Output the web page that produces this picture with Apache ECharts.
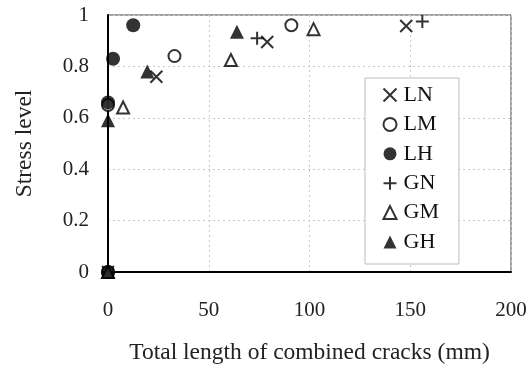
<!DOCTYPE html>
<html>
<head>
<meta charset="utf-8">
<script src="https://cdn.jsdelivr.net/npm/echarts@6/dist/echarts.min.js"></script>
<style>
  html, body { margin: 0; padding: 0; background: #fff; }
  #chart { width: 530px; height: 365px; }
</style>
</head>
<body>
<div id="chart"></div>
<script>
// Stress level vs. total length of combined cracks, per specimen group
const seriesNames = ['LN', 'LM', 'LH', 'GN', 'GM', 'GH'];
const dataLN = [[0, 0], [24, 0.76], [79, 0.895], [148, 0.957]];
const dataLM = [[0, 0], [0, 0.65], [33, 0.84], [91, 0.96]];
const dataLH = [[0, 0], [0, 0.66], [2.5, 0.83], [12.5, 0.96]];
const dataGN = [[0, 0], [74, 0.91], [156, 0.975]];
const dataGM = [[0, 0], [7.5, 0.64], [61, 0.825], [102, 0.945]];
const dataGH = [[0, 0], [0, 0.59], [19.5, 0.78], [64, 0.935]];
const xTicks = [0, 50, 100, 150, 200];
const yTicks = [0, 0.2, 0.4, 0.6, 0.8, 1];

const FONT = '"Liberation Serif", "Times New Roman", serif';
const CROSS_X = 'path://M0,0L10,10M10,0L0,10';
const CROSS_PLUS = 'path://M5,0L5,10M0,5L10,5';

const styles = {
  LN: { symbol: CROSS_X, symbolSize: 12, itemStyle: { color: 'none', borderColor: '#000', borderWidth: 2 } },
  LM: { symbol: 'circle', symbolSize: 12, itemStyle: { color: '#fff', borderColor: '#000', borderWidth: 2 } },
  LH: { symbol: 'circle', symbolSize: 14, itemStyle: { color: '#000', borderColor: '#000', borderWidth: 0 } },
  GN: { symbol: CROSS_PLUS, symbolSize: 13, itemStyle: { color: 'none', borderColor: '#000', borderWidth: 2 } },
  GM: { symbol: 'triangle', symbolSize: 12, itemStyle: { color: '#fff', borderColor: '#000', borderWidth: 2 } },
  GH: { symbol: 'triangle', symbolSize: 14, itemStyle: { color: '#000', borderColor: '#000', borderWidth: 0 } }
};
const seriesData = { LN: dataLN, LM: dataLM, LH: dataLH, GN: dataGN, GM: dataGM, GH: dataGH };

const chart = echarts.init(document.getElementById('chart'), null, { renderer: 'canvas' });

const fmt = v => String(+v.toFixed(1));

chart.setOption({
  animation: false,
  backgroundColor: '#fff',
  textStyle: { fontFamily: FONT },
  grid: {
    left: 108, right: 19, top: 15, bottom: 93,
    outerBoundsMode: 'none',
    containLabel: false,
    show: true, borderColor: '#444', borderWidth: 1, backgroundColor: 'transparent'
  },
  xAxis: {
    type: 'value',
    min: xTicks[0], max: xTicks[xTicks.length - 1], interval: 50,
    name: 'Total length of combined cracks (mm)',
    nameLocation: 'middle', nameGap: 69,
    nameTextStyle: { fontFamily: FONT, fontSize: 23.5, color: '#222' },
    axisLine: { show: true, onZero: false, lineStyle: { color: '#000', width: 2 } },
    axisTick: { show: false },
    axisLabel: { fontFamily: FONT, fontSize: 21, color: '#222', margin: 28 },
    splitLine: { show: true, lineStyle: { color: '#c8c8c8', type: [2, 3], width: 1 } }
  },
  yAxis: {
    type: 'value',
    min: yTicks[0], max: yTicks[yTicks.length - 1], interval: 0.2,
    name: 'Stress level',
    nameLocation: 'middle', nameGap: 71, nameRotate: 90,
    nameTextStyle: { fontFamily: FONT, fontSize: 23.5, color: '#222' },
    axisLine: { show: true, onZero: false, lineStyle: { color: '#000', width: 2 } },
    axisTick: { show: false },
    axisLabel: { fontFamily: FONT, fontSize: 21, color: '#222', margin: 19, formatter: fmt },
    splitLine: { show: true, lineStyle: { color: '#c8c8c8', type: [2, 3], width: 1 } }
  },
  legend: {
    orient: 'vertical',
    left: 365, top: 78,
    padding: [6, 20, 11, 16],
    itemGap: 7.4,
    itemWidth: 13, itemHeight: 13,
    backgroundColor: '#fff',
    borderColor: '#bdbdbd', borderWidth: 1,
    textStyle: { fontFamily: FONT, fontSize: 22, color: '#111', padding: [0, 0, 0, 2] },
    data: seriesNames
  },
  series: seriesNames.map(n => Object.assign({
    name: n,
    type: 'scatter',
    data: seriesData[n],
    clip: false,
    z: 3
  }, styles[n]))
});
</script>
</body>
</html>
